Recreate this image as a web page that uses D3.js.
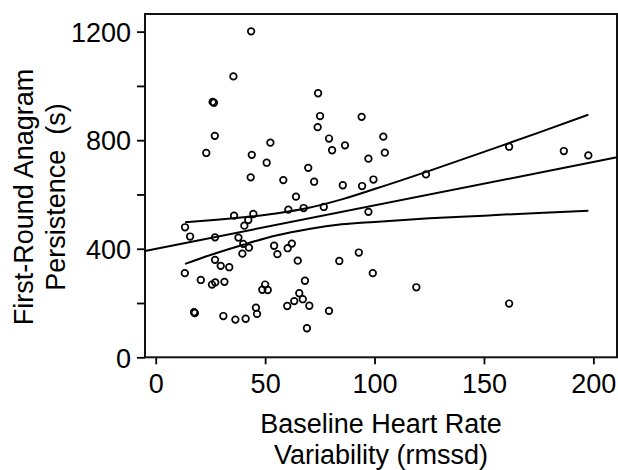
<!DOCTYPE html>
<html>
<head>
<meta charset="utf-8">
<script src="https://cdn.jsdelivr.net/npm/d3@7"></script>
<style>
  body { margin: 0; background: #fff; }
  text { font-family: "Liberation Sans", Arial, sans-serif; fill: #000; }
</style>
</head>
<body>
<svg id="chart" width="618" height="470"></svg>
<script>
// rmssd (x) and persistence in seconds (y)
var hrv = [13.4, 15.7, 13.3, 20.6, 17.5, 17.9, 23.1, 26.0, 26.6, 27.0, 27.1, 27.1, 29.7, 33.6,
  25.7, 27.2, 31.4, 30.9, 36.4, 41.1, 45.8, 46.3, 35.5, 43.6, 35.8, 44.6, 42.3, 40.5, 37.8,
  40.0, 42.6, 39.6, 43.9, 43.4, 50.7, 52.4, 54.1, 55.6, 60.3, 62.2, 64.9, 50.0, 48.7, 51.2,
  68.2, 65.6, 63.3, 60.1, 67.2, 70.2, 69.1, 79.2, 58.3, 64.1, 60.6, 67.6, 76.8, 69.7, 72.4,
  74.2, 75.1, 74.0, 79.2, 80.6, 86.5, 85.5, 94.1, 94.3, 97.2, 99.5, 97.2, 104.0, 104.7,
  83.9, 92.8, 99.2, 119.1, 161.5, 123.5, 161.5, 186.5, 197.7];
var persistence = [479, 445, 310, 285, 166, 163, 753, 941, 938, 816, 442, 359, 337, 332,
  268, 276, 278, 152, 139, 142, 183, 160, 1035, 1201, 522, 528, 506, 485, 441,
  418, 404, 382, 746, 663, 717, 791, 411, 380, 402, 419, 356, 268, 249, 248,
  282, 236, 207, 189, 214, 190, 107, 171, 653, 592, 544, 550, 554, 698, 647,
  973, 889, 848, 806, 763, 781, 634, 886, 631, 732, 655, 536, 813, 754,
  355, 386, 310, 258, 198, 674, 776, 760, 744];

// fit line end points and confidence band
var fitX = [-4.9, 210.8];
var fitY = [392, 737];
var bandX = [13.4, 25, 40, 55, 70, 85, 100, 125, 150, 175, 197.7];
var bandUpper = [498, 505, 516, 530, 551, 582, 620, 687, 757, 828, 894];
var bandLower = [344, 377, 415, 449, 473, 490, 499, 512, 522, 532, 540];

var xTicks = [0, 50, 100, 150, 200];
var yTicks = [0, 200, 400, 600, 800, 1000, 1200];
var yLabels = [0, 400, 800, 1200];

var svg = d3.select("#chart");
var plotL = 145, plotR = 617, plotT = 14, plotB = 357.3;

var x = d3.scaleLinear().domain([-4.9, 210.8]).range([plotL, plotR]);
var y = d3.scaleLinear().domain([0, 1265]).range([plotB, plotT]);

// axes
svg.append("g")
    .attr("transform", "translate(0," + plotB + ")")
    .call(d3.axisBottom(x).tickValues(xTicks).tickSize(7).tickPadding(10).tickSizeOuter(0))
    .call(function(g) {
      g.select(".domain").remove();
      g.selectAll("line").attr("stroke-width", 1.8);
      g.selectAll("text").attr("font-size", 27);
    });

svg.append("g")
    .attr("transform", "translate(" + plotL + ",0)")
    .call(d3.axisLeft(y).tickValues(yTicks).tickSize(8).tickPadding(6).tickSizeOuter(0)
      .tickFormat(function(d) { return yLabels.indexOf(d) >= 0 ? d : ""; }))
    .call(function(g) {
      g.select(".domain").remove();
      g.selectAll("line").attr("stroke-width", 1.8);
      g.selectAll("text").attr("font-size", 27).attr("dy", "0.36em");
    });

svg.append("rect")
    .attr("x", plotL).attr("y", plotT)
    .attr("width", plotR - plotL).attr("height", plotB - plotT)
    .attr("fill", "none").attr("stroke", "#111").attr("stroke-width", 2);

// band and fit
var band = d3.line().curve(d3.curveMonotoneX);
[bandUpper, bandLower].forEach(function(vals) {
  svg.append("path")
      .attr("d", band(bandX.map(function(v, i) { return [x(v), y(vals[i])]; })))
      .attr("fill", "none").attr("stroke", "#000").attr("stroke-width", 2);
});
svg.append("path")
    .attr("d", d3.line()(fitX.map(function(v, i) { return [x(v), y(fitY[i])]; })))
    .attr("fill", "none").attr("stroke", "#000").attr("stroke-width", 2);

// points
svg.append("g").selectAll("circle")
    .data(hrv)
  .enter().append("circle")
    .attr("cx", function(d) { return x(d); })
    .attr("cy", function(d, i) { return y(persistence[i]); })
    .attr("r", 3.3)
    .attr("fill", "none").attr("stroke", "#000").attr("stroke-width", 1.7);

// titles
svg.append("text")
    .attr("x", 381).attr("y", 433)
    .attr("text-anchor", "middle").attr("font-size", 27)
    .text("Baseline Heart Rate");
svg.append("text")
    .attr("x", 381).attr("y", 464)
    .attr("text-anchor", "middle").attr("font-size", 27)
    .text("Variability (rmssd)");

var yTitle = svg.append("text")
    .attr("transform", "translate(33,197) rotate(-90)")
    .attr("text-anchor", "middle").attr("font-size", 27);
yTitle.append("tspan").attr("x", 0).attr("y", 0).text("First-Round Anagram");
yTitle.append("tspan").attr("x", 0).attr("y", 32).attr("xml:space", "preserve").text("Persistence  (s)");
</script>
</body>
</html>
